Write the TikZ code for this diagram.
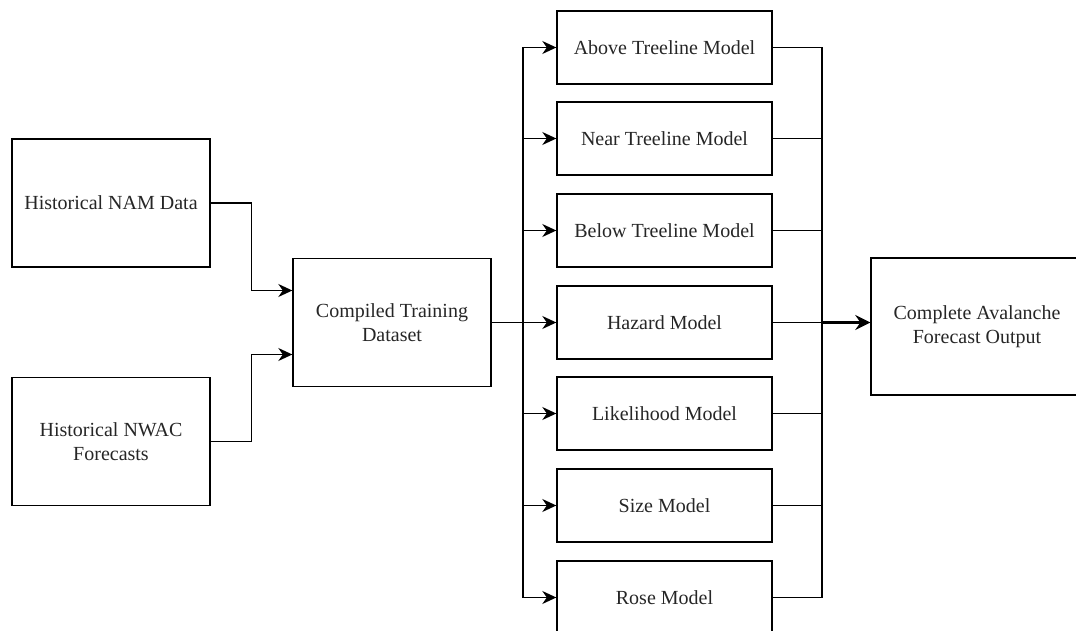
\documentclass[tikz,border=0pt]{standalone}
\usepackage{fontspec}
\setmainfont{Liberation Serif}
\usetikzlibrary{arrows.meta}
\tikzset{
  blk/.style = {draw=black, line width=1.4pt, align=center, inner sep=0pt,
    font=\fontsize{20}{24}\selectfont, text=black!85},
  blk_src/.style = {blk, minimum width=198pt, minimum height=128pt},% data sources
  blk_mdl/.style = {blk, minimum width=215pt, minimum height=73pt},% the models
  blk_out/.style = {blk, minimum width=212pt, minimum height=137pt},% final output
  conn/.style = {line width=1.3pt},
  conn_a/.style = {conn, -{Stealth[length=14pt,width=13pt,inset=4.5pt]}},
  conn_b/.style = {line width=3pt, -{Stealth[length=15pt,width=15pt,inset=5pt]}}
}

\begin{document}
\begin{tikzpicture}[x=1pt,y=-1pt]
  \useasboundingbox (0,0) rectangle (1076,631);
  \node [blk_src] (nam)  at (111,203)   {Historical NAM Data};
  \node [blk_src] (nwac) at (111,441.5) {Historical NWAC\\Forecasts};
  \node [blk_src] (comp) at (392,322.5) {Compiled Training\\Dataset};

  \node [blk_mdl] (above) at (664.5,47.5)  {Above Treeline Model};
  \node [blk_mdl] (near)  at (664.5,138.5) {Near Treeline Model};
  \node [blk_mdl] (below) at (664.5,230.5) {Below Treeline Model};
  \node [blk_mdl] (haz)   at (664.5,322.5) {Hazard Model};
  \node [blk_mdl] (like)  at (664.5,413.5) {Likelihood Model};
  \node [blk_mdl] (size)  at (664.5,505.5) {Size Model};
  \node [blk_mdl] (rose)  at (664.5,597.5) {Rose Model};

  \node [blk_out] (out) at (977,326.5) {Complete Avalanche\\Forecast Output};

  \coordinate (lbus) at (523,322.5);
  \coordinate (rbus) at (822,322.5);

  \draw [conn_a] (nam.east) -- ++(41,0) |- ([yshift=32pt]comp.west);
  \draw [conn_a] (nwac.east) -- ++(41,0) |- ([yshift=-32pt]comp.west);
  \draw [conn] (comp.east) -- (lbus);

  \foreach \m in {above,near,below,haz,like,size,rose}
    \draw [conn_a] (lbus) |- (\m.west);
  \foreach \m in {above,near,below,haz,like,size,rose}
    \draw [conn] (\m.east) -| (rbus);

  \draw [conn_b] (rbus) -- (rbus -| out.west);
\end{tikzpicture}
\end{document}
